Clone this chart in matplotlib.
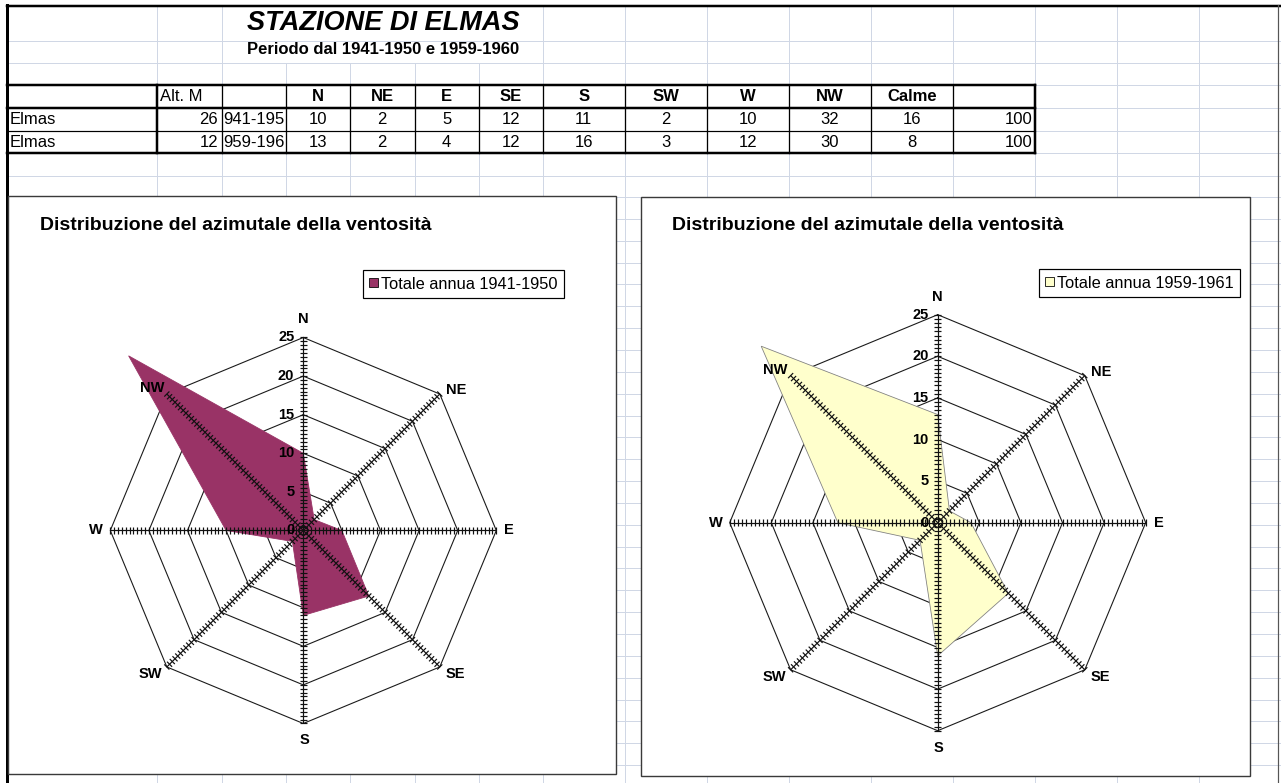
import numpy as np
import matplotlib
matplotlib.use("Agg")
import matplotlib.pyplot as plt
from matplotlib.patches import Rectangle, Patch, Circle
from matplotlib.collections import LineCollection

# ---------------- data ----------------
directions = ['N', 'NE', 'E', 'SE', 'S', 'SW', 'W', 'NW']
header_cols = ['Alt. M', '', 'N', 'NE', 'E', 'SE', 'S', 'SW', 'W', 'NW', 'Calme', '']
stations = ['Elmas', 'Elmas']
altitudes = [26, 12]
periods = ['941-195', '959-196']
freq_1941 = [10, 2, 5, 12, 11, 2, 10, 32]
freq_1959 = [13, 2, 4, 12, 16, 3, 12, 30]
calme = [16, 8]
totals = [100, 100]
rings = [0, 5, 10, 15, 20, 25]
legend_labels = ['Totale annua 1941-1950', 'Totale annua 1959-1961']
main_title = 'STAZIONE DI ELMAS'
sub_title = 'Periodo dal 1941-1950 e 1959-1960'
chart_title = 'Distribuzione del azimutale della ventosità'

W, H = 1281, 783
FONT = 'Liberation Sans'
plt.rcParams['font.family'] = [FONT, 'DejaVu Sans']

fig = plt.figure(figsize=(W / 100, H / 100), dpi=100)
bg = fig.add_axes([0, 0, 1, 1])
bg.set_xlim(0, W)
bg.set_ylim(H, 0)
bg.axis('off')

PX = 0.72  # points per pixel
grid_c = '#D0D7E5'

# spreadsheet grid
cols = [157.3, 221.7, 286, 350, 414.5, 479, 543, 624.5, 706.7, 789, 870.8,
        952.7, 1034.5, 1116.7, 1199]
rows = [40.7, 63.3, 85, 107.7, 131, 153.3, 175.7]
y = 197
while y < H:
    rows.append(y)
    y += 21.85
for r in rows:
    bg.plot([7, W], [r, r], color=grid_c, lw=1 * PX, zorder=1)
for c in cols:
    if 221.7 < c < 543:
        bg.plot([c, c], [63.3, H], color=grid_c, lw=1 * PX, zorder=1)
    else:
        bg.plot([c, c], [6, H], color=grid_c, lw=1 * PX, zorder=1)

# window frame
bg.plot([7, W], [5.5, 5.5], color='black', lw=2.5 * PX, zorder=5)
bg.plot([7, 7], [5, H], color='black', lw=3 * PX, zorder=5)
bg.plot([1278, 1278], [5, H], color='#555555', lw=1.2 * PX, zorder=5)

# titles
bg.text(383, 23, main_title, ha='center', va='center', fontsize=19.5,
        fontweight='bold', fontstyle='italic', zorder=6)
bg.text(383, 50, sub_title, ha='center', va='center', fontsize=12,
        fontweight='bold', zorder=6)

# table
tx0, tx1 = 7, 1034.5
ty = [85, 107.7, 131, 153.3]
for yy, lw in zip(ty, [2.5, 2.5, 1.2, 2.5]):
    bg.plot([tx0, tx1], [yy, yy], color='black', lw=lw * PX, zorder=4)
bg.plot([tx1, tx1], [85, 153.3], color='black', lw=2.5 * PX, zorder=4)
for c in cols[:12]:
    lw = 2.5 if c in (157.3,) else 1.3
    bg.plot([c, c], [85, 153.3], color='black', lw=lw * PX, zorder=4)

col_edges = [7] + cols[:12]
centers = [(col_edges[i] + col_edges[i + 1]) / 2 for i in range(len(col_edges) - 1)]
FS = 12
hy = 96.5
bg.text(160, hy, header_cols[0], ha='left', va='center', fontsize=FS, zorder=6)
for i, lab in enumerate(header_cols[2:11]):
    bg.text(centers[i + 3], hy, lab, ha='center', va='center', fontsize=FS,
            fontweight='bold', zorder=6)
row_y = [119.5, 142.3]
for r in range(2):
    vals = (freq_1941, freq_1959)[r]
    yy = row_y[r]
    bg.text(10, yy, stations[r], ha='left', va='center', fontsize=FS, zorder=6)
    bg.text(218, yy, str(altitudes[r]), ha='right', va='center', fontsize=FS, zorder=6)
    bg.text(223, yy, periods[r], ha='left', va='center', fontsize=FS, zorder=6)
    for i, v in enumerate(vals + [calme[r]]):
        bg.text(centers[i + 3], yy, str(v), ha='center', va='center', fontsize=FS, zorder=6)
    bg.text(1032, yy, str(totals[r]), ha='right', va='center', fontsize=FS, zorder=6)

# chart boxes
boxes = [(8, 196, 615.5, 773.5), (641, 197, 1249.5, 775.5)]
for (x0, y0, x1, y1) in boxes:
    bg.add_patch(Rectangle((x0, y0), x1 - x0, y1 - y0, facecolor='white',
                           edgecolor='#3a3a3a', lw=1.4 * PX, zorder=7))
for tx in (40, 672):
    bg.text(tx, 226, chart_title, ha='left', va='center', fontsize=14,
            fontweight='bold', zorder=8)

# radar charts
charts = [
    dict(cx=303.3, cy=530.5, R=193, vals=freq_1941, color='#993366', edge='#993366',
         legend=legend_labels[0], leg_xy=(564, 270)),
    dict(cx=937.7, cy=522.7, R=208, vals=freq_1959, color='#FFFFCC', edge='#808080',
         legend=legend_labels[1], leg_xy=(1240, 269)),
]
label_off = {'N': (0, 18), 'NE': (16, 4), 'E': (13, 0), 'SE': (16, -7),
             'S': (1, -17), 'SW': (-16, -7), 'W': (-14, 0), 'NW': (-15, 6)}
theta = np.deg2rad(np.arange(8) * 45.0)

for ch in charts:
    cx, cy, R = ch['cx'], ch['cy'], ch['R']
    rmax = rings[-1]
    half = 1.45
    rect = [(cx - half * R) / W, 1 - (cy + half * R) / H, 2 * half * R / W, 2 * half * R / H]
    ax = fig.add_axes(rect, zorder=10)
    ax.set_xlim(-half * rmax, half * rmax)
    ax.set_ylim(-half * rmax, half * rmax)
    ax.set_aspect('equal')
    ax.axis('off')
    ax.patch.set_alpha(0)
    sx, cy_ = np.sin(theta), np.cos(theta)
    # octagon rings
    for r in rings[1:]:
        xs = np.append(r * sx, r * sx[0])
        ys = np.append(r * cy_, r * cy_[0])
        ax.plot(xs, ys, color='#1a1a1a', lw=1.1 * PX, zorder=1, clip_on=False)
    # data polygon
    v = np.array(ch['vals'], dtype=float)
    ax.fill(v * sx, v * cy_, facecolor=ch['color'], edgecolor=ch['edge'],
            lw=0.8 * PX, zorder=2, clip_on=False, label=ch['legend'])
    # spokes with ticks
    unit = R / rmax
    th = 3.6 / unit
    segs = []
    for s, c in zip(sx, cy_):
        segs.append([(0, 0), (rmax * s, rmax * c)])
        for t in np.arange(0.5, rmax + 0.01, 0.5):
            px_, py_ = t * s, t * c
            segs.append([(px_ - th * c, py_ + th * s), (px_ + th * c, py_ - th * s)])
    ax.add_collection(LineCollection(segs, colors='#111111', linewidths=1.2 * PX,
                                     zorder=3, clip_on=False))
    ax.add_patch(Circle((0, 0), 4.5 / unit, fill=False, ec='#111111', lw=1.2 * PX,
                        zorder=3, clip_on=False))
    # value labels
    for r in rings:
        ax.annotate(str(r), (0, r), xytext=(-9, 0), textcoords='offset pixels',
                    ha='right', va='center', fontsize=10.5, fontweight='bold',
                    zorder=4, annotation_clip=False)
    # direction labels
    for d, s, c in zip(directions, sx, cy_):
        ax.annotate(d, (rmax * s, rmax * c), xytext=label_off[d],
                    textcoords='offset pixels', ha='center', va='center',
                    fontsize=10.5, fontweight='bold', zorder=4, annotation_clip=False)
    lx, ly = ch['leg_xy']
    leg = ax.legend(loc='upper right', bbox_to_anchor=(lx / W, 1 - ly / H),
                    bbox_transform=fig.transFigure, frameon=True, fancybox=False,
                    edgecolor='black', framealpha=1, fontsize=11.8,
                    handlelength=0.5, handleheight=0.5, handletextpad=0.2,
                    borderpad=0.4, borderaxespad=0)
    leg.get_frame().set_linewidth(1.2 * PX)
    for hnd in leg.legend_handles:
        hnd.set_edgecolor('black')
        hnd.set_linewidth(0.8 * PX)

fig.savefig('out.png', dpi=100)
